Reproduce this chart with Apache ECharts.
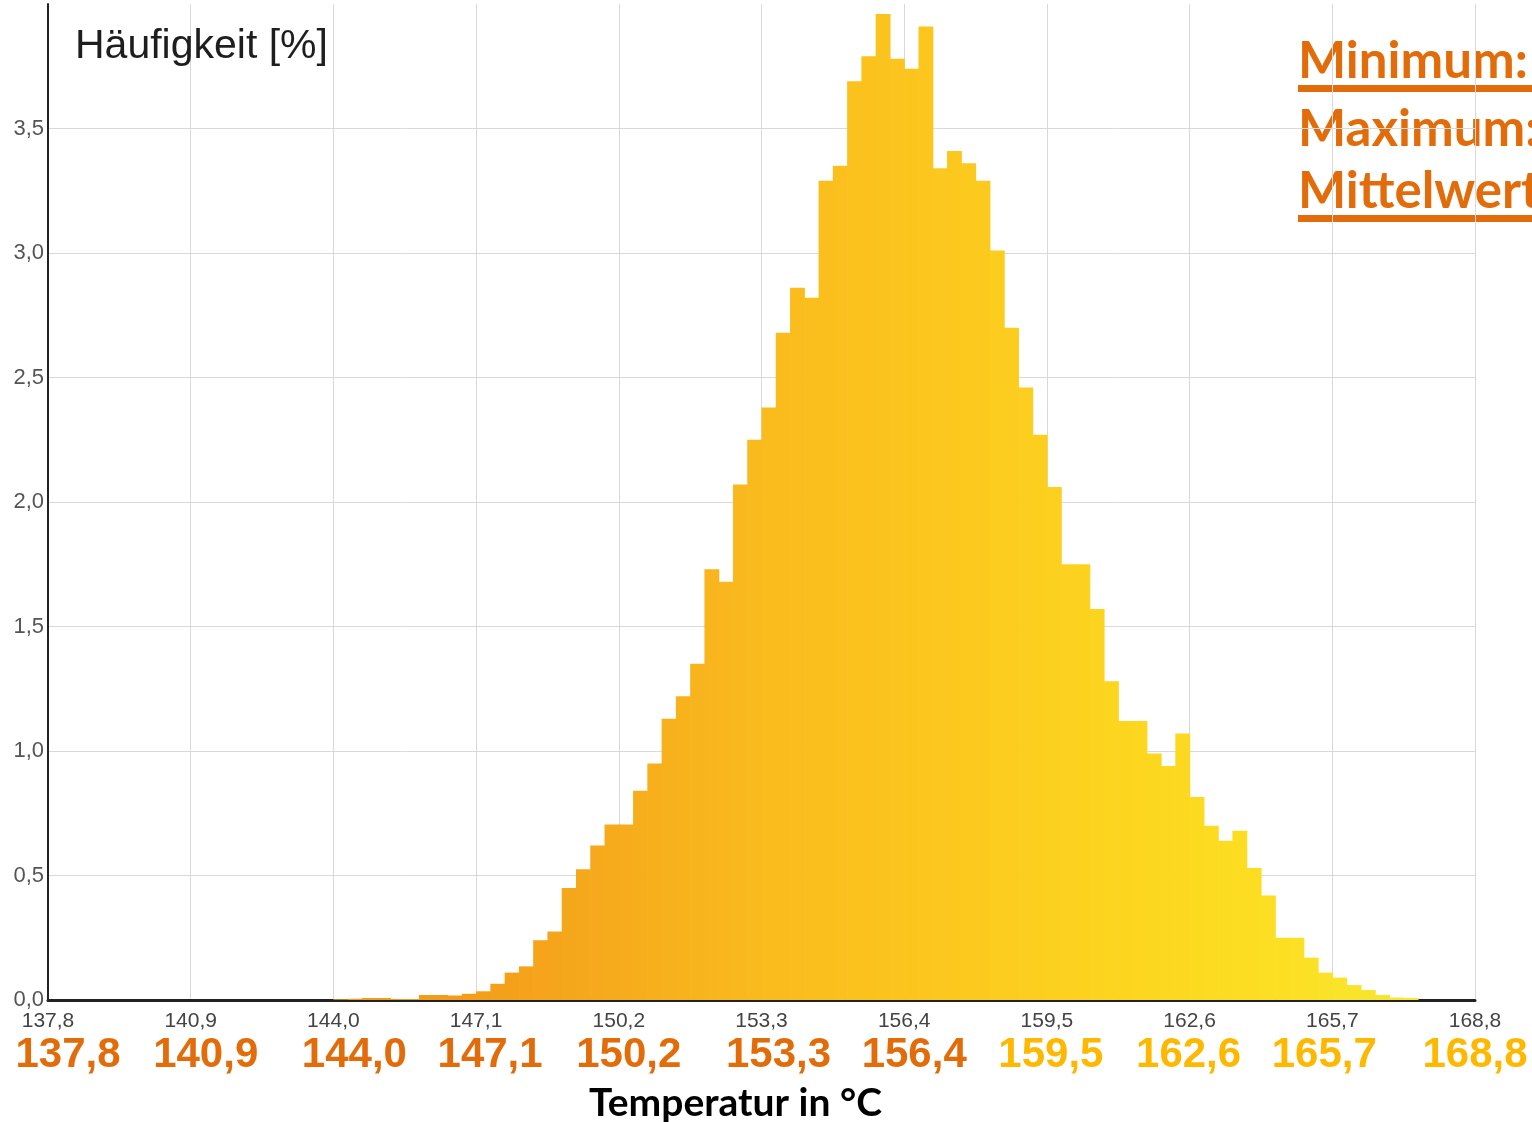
<!DOCTYPE html>
<html>
<head>
<meta charset="utf-8">
<script src="https://cdn.jsdelivr.net/npm/echarts@6/dist/echarts.min.js"></script>
<style>
html,body{margin:0;padding:0;background:#fff;overflow:hidden;}
#chart{width:1532px;height:1122px;}
</style>
</head>
<body>
<div id="chart"></div>
<script>
// 100 bins of 0.31 °C from 137,8 to 168,8 — frequency in %
const binFrequency = [
  0,0,0,0,0,0,0,0,0,0,
  0,0,0,0,0,0,0,0,0,0,
  0.003,0.005,0.008,0.008,0.004,0.004,0.02,0.02,0.018,0.025,
  0.035,0.065,0.11,0.135,0.24,0.275,0.45,0.525,0.62,0.705,
  0.705,0.84,0.95,1.13,1.22,1.35,1.73,1.68,2.07,2.25,
  2.38,2.68,2.86,2.82,3.29,3.35,3.69,3.79,3.96,3.78,
  3.74,3.91,3.34,3.41,3.36,3.29,3.01,2.70,2.46,2.27,
  2.06,1.75,1.75,1.57,1.28,1.12,1.12,0.99,0.94,1.07,
  0.815,0.70,0.64,0.68,0.53,0.42,0.25,0.25,0.17,0.11,
  0.09,0.06,0.04,0.02,0.01,0.008,0,0,0,0
];
const xTickLabels = ['137,8','140,9','144,0','147,1','150,2','153,3','156,4','159,5','162,6','165,7','168,8'];
const yTickLabels = ['0,0','0,5','1,0','1,5','2,0','2,5','3,0','3,5'];
const titleText = 'Häufigkeit [%]';
const xAxisTitle = 'Temperatur in °C';
const statLabels = ['Minimum:', 'Maximum:', 'Mittelwert'];

const chart = echarts.init(document.getElementById('chart'), null, {renderer: 'canvas'});
const seriesData = binFrequency.map((v, i) => [i, v]);

const orange = '#E36C0A';
const amber = '#FFB800';

// horizontal nudges (px) of the large overlay labels, as placed in the original slide
const bigLabelShift = [20, 15, 21, 14, 10, 17, 10, 4, -1, -8, 0];
const bigRich = {};
bigLabelShift.forEach((s, i) => {
  bigRich['b' + i] = {
    fontFamily: 'Liberation Sans', fontWeight: 'bold', fontSize: 42,
    color: i >= 7 ? amber : orange,
    padding: [0, s < 0 ? -2 * s : 0, 0, s > 0 ? 2 * s : 0]
  };
});

const option = {
  backgroundColor: '#ffffff',
  animation: false,
  title: {
    text: titleText,
    left: 70, top: 21,
    textStyle: {fontFamily: 'Liberation Sans', fontSize: 41, fontWeight: 'normal', color: '#1e1e1e'}
  },
  grid: {left: 48, right: 57, top: 4, bottom: 122, containLabel: false, outerBoundsMode: 'none'},
  visualMap: {
    show: false, type: 'continuous', dimension: 0, min: 28, max: 96, seriesIndex: 0,
    inRange: {color: ['#F39C19', '#F6AB1C', '#FABC1D', '#FCC71E', '#FCD41F', '#FCDE21', '#F8E833']}
  },
  xAxis: [{
    type: 'value', min: 0, max: 100, interval: 10,
    axisLine: {show: true, lineStyle: {color: '#222', width: 3}},
    axisTick: {show: false},
    splitLine: {show: true, lineStyle: {color: '#d9d9d9', width: 1}},
    axisLabel: {
      margin: 11, fontFamily: 'Liberation Sans', fontSize: 21, color: '#444',
      formatter: v => xTickLabels[Math.round(v / 10)] || ''
    },
    name: xAxisTitle, nameLocation: 'middle', nameGap: 84,
    nameTextStyle: {fontFamily: 'Lato', fontWeight: 'bold', fontSize: 39, color: '#000', padding: [0, 52, 0, 0]}
  }, {
    type: 'value', min: 0, max: 100, interval: 10, position: 'bottom',
    axisLine: {show: false}, axisTick: {show: false}, splitLine: {show: false},
    axisLabel: {
      margin: 34, fontFamily: 'Liberation Sans', fontWeight: 'bold', fontSize: 42,
      rich: bigRich,
      formatter: v => { const i = Math.round(v / 10); return xTickLabels[i] ? '{b' + i + '|' + xTickLabels[i] + '}' : ''; }
    }
  }],
  yAxis: {
    type: 'value', min: 0, max: 4, interval: 0.5,
    axisLine: {show: true, lineStyle: {color: '#222', width: 2}},
    axisTick: {show: false},
    splitLine: {show: true, showMaxLine: false, lineStyle: {color: '#d9d9d9', width: 1}},
    axisLabel: {
      margin: 4, fontFamily: 'Liberation Sans', fontSize: 22, color: '#555',
      formatter: v => { const i = Math.round(v / 0.5); return Math.abs(i * 0.5 - v) < 1e-6 && i < yTickLabels.length ? yTickLabels[i] : ''; }
    }
  },
  series: [{
    type: 'custom',
    xAxisIndex: 0,
    data: seriesData,
    renderItem: function (params, api) {
      const x0 = api.value(0), y = api.value(1);
      if (!(y > 0)) return null;
      const pTop = api.coord([x0, y]);
      const pBot = api.coord([x0 + 1, 0]);
      return {
        type: 'rect',
        shape: {x: pTop[0], y: pTop[1], width: pBot[0] - pTop[0] + 0.6, height: pBot[1] - pTop[1]},
        style: {fill: api.visual('color')}
      };
    }
  }],
  graphic: [
    {type: 'text', left: 1298, top: 36, style: {text: statLabels[0], font: 'bold 51px Lato', fill: orange}},
    {type: 'rect', left: 1298, top: 85, shape: {width: 240, height: 7}, style: {fill: orange}},
    {type: 'text', left: 1298, top: 104, style: {text: statLabels[1], font: 'bold 51px Lato', fill: orange}},
    {type: 'text', left: 1298, top: 166, style: {text: statLabels[2], font: 'bold 51px Lato', fill: orange}},
    {type: 'rect', left: 1298, top: 215, shape: {width: 240, height: 7}, style: {fill: orange}}
  ]
};
chart.setOption(option);
</script>
</body>
</html>
